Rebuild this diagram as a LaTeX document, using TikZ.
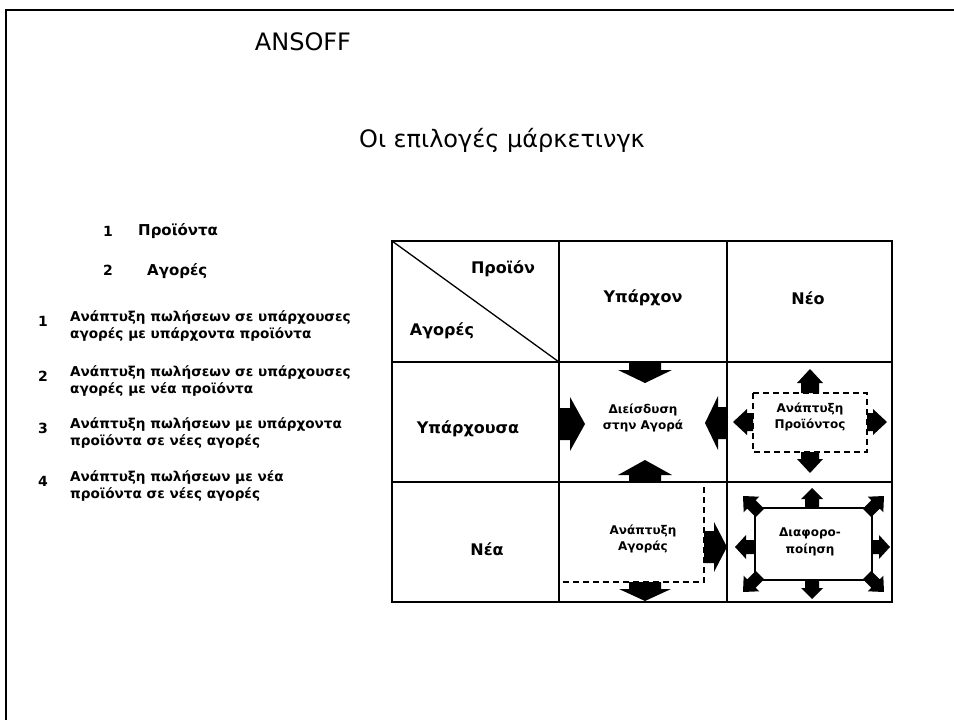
\documentclass[tikz,border=0pt]{standalone}
\usepackage{fontspec}
\setmainfont{DejaVu Sans}
\usepackage{tikz}
\usetikzlibrary{positioning}
\definecolor{ink}{HTML}{000000}
\tikzset{gridline/.style={draw=ink,line width=1.8pt},frameline/.style={draw=ink,line width=2.6pt},dashbox/.style={draw=ink,dashed,dash pattern=on 6pt off 4pt,line width=1.2pt},headtext/.style={font=\fontsize{24}{28}\selectfont,inner sep=0pt},keytext/.style={font=\bfseries\fontsize{15}{18}\selectfont,inner sep=0pt},listnum/.style={font=\bfseries\fontsize{14}{17}\selectfont,inner sep=0pt},listtext/.style={font=\bfseries\fontsize{13.6}{16.5}\selectfont,align=left,anchor=west,inner sep=0pt},celllabel/.style={font=\bfseries\fontsize{16}{19}\selectfont,inner sep=0pt},boxlabel/.style={font=\bfseries\fontsize{12}{16.5}\selectfont,align=center,inner sep=0pt},pics/barrow/.style n args={4}{code={\fill[ink] (0,0) -- (-#4,#3) -- (-#4,#2) -- (-#1,#2) -- (-#1,-#2) -- (-#4,-#2) -- (-#4,-#3) -- cycle;}}}

\begin{document}
\begin{tikzpicture}[x=1pt,y=-1pt]
\useasboundingbox (0,0) rectangle (954,720);
% slide frame
\draw[frameline] (6,720) -- (6,10) -- (954,10);
% headings
\node[headtext] (ansoff) at (303,42) {ANSOFF};
\node[headtext] (title) at (502,140) {Οι επιλογές μάρκετινγκ};
% key
\node[listnum] (k1) at (108,231) {1};
\node[keytext,anchor=west] (k1t) at (138,231) {Προϊόντα};
\node[listnum] (k2) at (108,270) {2};
\node[keytext,anchor=west] (k2t) at (147,271) {Αγορές};
% the four options
\node[listnum] (n1) at (43,321) {1};
\node[listtext] (t1) at (70,326) {Ανάπτυξη πωλήσεων σε υπάρχουσες\\αγορές με υπάρχοντα προϊόντα};
\node[listnum] (n2) at (43,376) {2};
\node[listtext] (t2) at (70,381) {Ανάπτυξη πωλήσεων σε υπάρχουσες\\αγορές με νέα προϊόντα};
\node[listnum] (n3) at (43,428) {3};
\node[listtext] (t3) at (70,433) {Ανάπτυξη πωλήσεων με υπάρχοντα\\προϊόντα σε νέες αγορές};
\node[listnum] (n4) at (43,481) {4};
\node[listtext] (t4) at (70,486) {Ανάπτυξη πωλήσεων με νέα\\προϊόντα σε νέες αγορές};
% matrix
\draw[gridline] (392,241) rectangle (892,602);
\foreach \x in {559,727}{\draw[gridline] (\x,241) -- (\x,602);}
\foreach \y in {362,482}{\draw[gridline] (392,\y) -- (892,\y);}
\draw[ink,line width=1.3pt] (392,241) -- (559,362);
\node[celllabel] (prod) at (503,269) {Προϊόν};
\node[celllabel] (mark) at (442,331) {Αγορές};
\node[celllabel] (exprod) at (643,298) {Υπάρχον};
\node[celllabel] (newprod) at (808,298) {Νέο};
\node[celllabel] (exmark) at (468,429) {Υπάρχουσα};
\node[celllabel] (newmark) at (487,549) {Νέα};
% market penetration
\node[boxlabel] (pen) at (643,418) {Διείσδυση\\στην Αγορά};
\pic[rotate=-90] at (645,383) {barrow={21}{16}{27}{13}};
\pic[rotate=90] at (645,460) {barrow={22}{16}{27}{15}};
\pic at (585,424) {barrow={26}{16}{27}{15}};
\pic[rotate=180] at (705,423) {barrow={22}{16}{27}{13}};
% product development
\draw[dashbox] (753,393) rectangle (867,452);
\node[boxlabel] (pdev) at (810,417) {Ανάπτυξη\\Προϊόντος};
\pic[rotate=90] at (810,369) {barrow={24}{9}{13}{14}};
\pic[rotate=-90] at (810,473) {barrow={21}{9}{13}{14}};
\pic[rotate=180] at (733,422) {barrow={20}{9}{13}{14}};
\pic at (887,422) {barrow={20}{9}{13}{14}};
% market development
\draw[dashbox] (563,582) -- (704,582) -- (704,482);
\node[boxlabel] (mdev) at (643,539) {Ανάπτυξη\\Αγοράς};
\pic at (727,547) {barrow={23}{16}{25}{13}};
\pic[rotate=-90] at (645,601) {barrow={19}{16}{26}{12}};
% diversification
\draw[ink,line width=1.3pt] (755,508) rectangle (872,580);
\node[boxlabel] (div) at (810,542) {Διαφορο-\\ποίηση};
\pic[rotate=90] at (812,488) {barrow={20}{7}{11}{11}};
\pic[rotate=-90] at (812,599) {barrow={19}{7}{11}{11}};
\pic[rotate=180] at (735,547) {barrow={20}{7}{12}{11}};
\pic at (890,547) {barrow={18}{7}{12}{11}};
\pic[rotate=135] at (743,496) {barrow={24}{6}{11}{12}};
\pic[rotate=45] at (884,496) {barrow={24}{6}{11}{12}};
\pic[rotate=-135] at (743,592) {barrow={24}{6}{11}{12}};
\pic[rotate=-45] at (884,592) {barrow={24}{6}{11}{12}};
\end{tikzpicture}
\end{document}
